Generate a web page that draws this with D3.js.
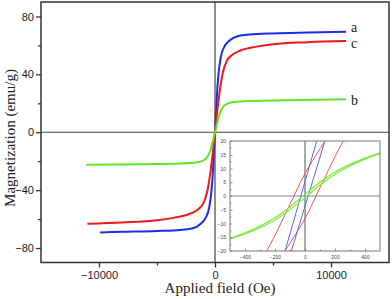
<!DOCTYPE html>
<html>
<head>
<meta charset="utf-8">
<script src="https://cdn.jsdelivr.net/npm/d3@7"></script>
<style>
  body { margin: 0; background: #fff; }
  svg { display: block; }
</style>
</head>
<body>
<script>
// Main M-H curves (field in Oe, magnetization in emu/g)
const fieldA = [-9900, -8000, -5000, -3000, -2000, -1200, -800, -500, -300, -200, -100, 0, 100, 200, 300, 500, 800, 1200, 2000, 3000, 5000, 8000, 11300];
const magA = [-69.2, -68.8, -68.2, -67.5, -66.5, -63, -59, -52, -40, -30, -15, 0, 15, 30, 40, 52, 59, 63, 66.5, 67.5, 68.3, 68.9, 69.4];
const fieldB = [-11100, -6000, -3000, -1500, -1000, -700, -400, -200, 0, 200, 400, 700, 1000, 1500, 3000, 6000, 11300];
const magB = [-22.5, -22.1, -21.6, -20.7, -19.5, -17.5, -12.5, -6.5, 0, 6.5, 12.5, 17.5, 19.5, 20.7, 21.6, 22.1, 22.8];
const fieldC = [-11000, -8000, -5000, -3500, -2200, -1500, -1000, -700, -400, -200, 0, 200, 400, 700, 1000, 1500, 2200, 3500, 5000, 8000, 11300];
const magC = [-63.2, -62.3, -60.8, -59, -56.5, -53.5, -49, -42, -28, -15, 0, 15, 28, 42, 49, 53.5, 56.5, 59, 60.8, 62.2, 63];

// Inset loops (low field region)
const insetFieldGreen = [-500, -400, -300, -200, -100, 0, 100, 200, 300, 400, 500];
const insetGreenUp = [-15.4, -13.4, -10.9, -7.9, -4.0, 0.6, 5.0, 8.7, 11.5, 13.8, 15.6];
const insetGreenDown = [-15.6, -13.8, -11.5, -8.7, -5.0, -0.6, 4.0, 7.9, 10.9, 13.4, 15.4];
const insetFieldRed1 = [-290, -200, -100, 0, 100, 170];
const insetRed1 = [-23.5, -14.3, -3.0, 8.2, 17.1, 23.2];
const insetFieldRed2 = [-170, -100, 0, 100, 200, 290];
const insetRed2 = [-23.2, -17.1, -8.2, 3.0, 14.3, 23.5];
const insetFieldBlue1 = [-150, 0, 90];
const insetBlue1 = [-23.2, 5.2, 22.3];
const insetFieldBlue2 = [-110, 0, 150];
const insetBlue2 = [-23.5, -3.7, 23.1];

const xTicks = [-10000, 0, 10000];
const yTicks = [-80, -40, 0, 40, 80];
const insetXTicks = [-400, -200, 0, 200, 400];
const insetYTicks = [-20, -15, -10, -5, 0, 5, 10, 15, 20];

const W = 392, H = 299;
const m = {left: 41, right: 3, top: 2, bottom: 36.5};

const svg = d3.select('body').append('svg')
    .attr('width', W)
    .attr('height', H);

const x = d3.scaleLinear().domain([-15000, 15000]).range([m.left, W - m.right]);
const y = d3.scaleLinear().domain([-90, 90]).range([H - m.bottom, m.top]);

const axisColor = '#333';

// zero lines
svg.append('line')
    .attr('x1', x(-15000)).attr('x2', x(15000))
    .attr('y1', y(0)).attr('y2', y(0))
    .attr('stroke', '#444').attr('stroke-width', 1.2);
svg.append('line')
    .attr('x1', x(0)).attr('x2', x(0))
    .attr('y1', y(-90)).attr('y2', y(90))
    .attr('stroke', '#444').attr('stroke-width', 1.2);

// frame
svg.append('rect')
    .attr('x', x(-15000)).attr('y', y(90))
    .attr('width', x(15000) - x(-15000))
    .attr('height', y(-90) - y(90))
    .attr('fill', 'none')
    .attr('stroke', axisColor)
    .attr('stroke-width', 1.5);

// axes
const xAxis = svg.append('g')
    .attr('transform', 'translate(0,' + y(-90) + ')')
    .call(d3.axisBottom(x).tickValues(xTicks).tickSize(5).tickFormat(d3.format('d')));
svg.append('g')
    .attr('transform', 'translate(0,' + y(-90) + ')')
    .call(d3.axisBottom(x).tickValues([-5000, 5000]).tickSize(3).tickFormat(''));
const yAxis = svg.append('g')
    .attr('transform', 'translate(' + x(-15000) + ',0)')
    .call(d3.axisLeft(y).tickValues(yTicks).tickSize(5));
svg.append('g')
    .attr('transform', 'translate(' + x(-15000) + ',0)')
    .call(d3.axisLeft(y).tickValues([-60, -20, 20, 60]).tickSize(3).tickFormat(''));

svg.selectAll('.domain').remove();
svg.selectAll('.tick line').attr('stroke', axisColor).attr('stroke-width', 1.3);
svg.selectAll('.tick text')
    .attr('font-family', 'Liberation Sans, Arial, sans-serif')
    .attr('font-size', 11)
    .attr('fill', '#222');
yAxis.selectAll('.tick text').attr('x', -7);
xAxis.selectAll('.tick text').attr('y', 9);

// axis titles
svg.append('text')
    .attr('transform', 'translate(15,' + 138 + ') rotate(-90)')
    .attr('text-anchor', 'middle')
    .attr('font-family', 'Liberation Serif, Times New Roman, serif')
    .attr('font-size', 15)
    .attr('fill', '#222')
    .text('Magnetization (emu/g)');
svg.append('text')
    .attr('x', 220).attr('y', 293)
    .attr('text-anchor', 'middle')
    .attr('font-family', 'Liberation Serif, Times New Roman, serif')
    .attr('font-size', 15)
    .attr('fill', '#222')
    .text('Applied field (Oe)');

// main curves
const series = [
    {name: 'a', field: fieldA, mag: magA, color: '#1a2ef0'},
    {name: 'c', field: fieldC, mag: magC, color: '#f01818'},
    {name: 'b', field: fieldB, mag: magB, color: '#66e22a'}
];

const line = d3.line()
    .x(d => x(d[0]))
    .y(d => y(d[1]))
    .curve(d3.curveMonotoneX);

series.forEach(s => {
    svg.append('path')
        .datum(d3.zip(s.field, s.mag))
        .attr('fill', 'none')
        .attr('stroke', s.color)
        .attr('stroke-width', 2)
        .attr('d', line);
    const last = s.field.length - 1;
    svg.append('text')
        .attr('x', x(s.field[last]) + 5)
        .attr('y', y(s.mag[last]) + (s.name === 'c' ? 7 : s.name === 'b' ? 6 : 0))
        .attr('font-family', 'Liberation Serif, Times New Roman, serif')
        .attr('font-size', 14)
        .attr('fill', '#222')
        .text(s.name);
});

// ---- inset ----
const ix = d3.scaleLinear().domain([-500, 500]).range([230, 380]);
const iy = d3.scaleLinear().domain([-20, 20]).range([251, 141]);

const inset = svg.append('g');
inset.append('rect')
    .attr('x', 230).attr('y', 141)
    .attr('width', 150).attr('height', 110)
    .attr('fill', '#fff');

svg.append('clipPath').attr('id', 'insetClip')
    .append('rect')
    .attr('x', 230).attr('y', 141)
    .attr('width', 150).attr('height', 110);

inset.append('line')
    .attr('x1', ix(-500)).attr('x2', ix(500))
    .attr('y1', iy(0)).attr('y2', iy(0))
    .attr('stroke', '#888').attr('stroke-width', 1);
inset.append('line')
    .attr('x1', ix(0)).attr('x2', ix(0))
    .attr('y1', iy(-20)).attr('y2', iy(20))
    .attr('stroke', '#556').attr('stroke-width', 1);

const iline = d3.line()
    .x(d => ix(d[0]))
    .y(d => iy(d[1]))
    .curve(d3.curveMonotoneX);

const loops = [
    {field: insetFieldRed1, mag: insetRed1, color: '#f5505a', w: 1},
    {field: insetFieldRed2, mag: insetRed2, color: '#f5505a', w: 1},
    {field: insetFieldBlue1, mag: insetBlue1, color: '#5566f0', w: 1},
    {field: insetFieldBlue2, mag: insetBlue2, color: '#5566f0', w: 1},
    {field: insetFieldGreen, mag: insetGreenUp, color: '#7ee83a', w: 1.2},
    {field: insetFieldGreen, mag: insetGreenDown, color: '#7ee83a', w: 1.2}
];
const loopG = inset.append('g').attr('clip-path', 'url(#insetClip)');
loops.forEach(l => {
    loopG.append('path')
        .datum(d3.zip(l.field, l.mag))
        .attr('fill', 'none')
        .attr('stroke', l.color)
        .attr('stroke-width', l.w)
        .attr('d', iline);
});

inset.append('rect')
    .attr('x', 230).attr('y', 141)
    .attr('width', 150).attr('height', 110)
    .attr('fill', 'none')
    .attr('stroke', '#777')
    .attr('stroke-width', 1);

const ixAxis = inset.append('g')
    .attr('transform', 'translate(0,251)')
    .call(d3.axisBottom(ix).tickValues(insetXTicks).tickSize(-2.5).tickPadding(4));
inset.append('g')
    .attr('transform', 'translate(0,251)')
    .call(d3.axisBottom(ix).tickValues([-300, -100, 100, 300]).tickSize(-1.5).tickFormat(''));
const iyAxis = inset.append('g')
    .attr('transform', 'translate(230,0)')
    .call(d3.axisLeft(iy).tickValues(insetYTicks).tickSize(-2.5).tickPadding(4));
inset.append('g')
    .attr('transform', 'translate(230,0)')
    .call(d3.axisLeft(iy).tickValues([-17.5, -12.5, -7.5, -2.5, 2.5, 7.5, 12.5, 17.5]).tickSize(-1.5).tickFormat(''));

inset.selectAll('.domain').remove();
inset.selectAll('.tick line').attr('stroke', '#777').attr('stroke-width', 0.8);
inset.selectAll('.tick text')
    .attr('font-family', 'Liberation Sans, Arial, sans-serif')
    .attr('font-size', 5)
    .attr('fill', '#444');
</script>
</body>
</html>
